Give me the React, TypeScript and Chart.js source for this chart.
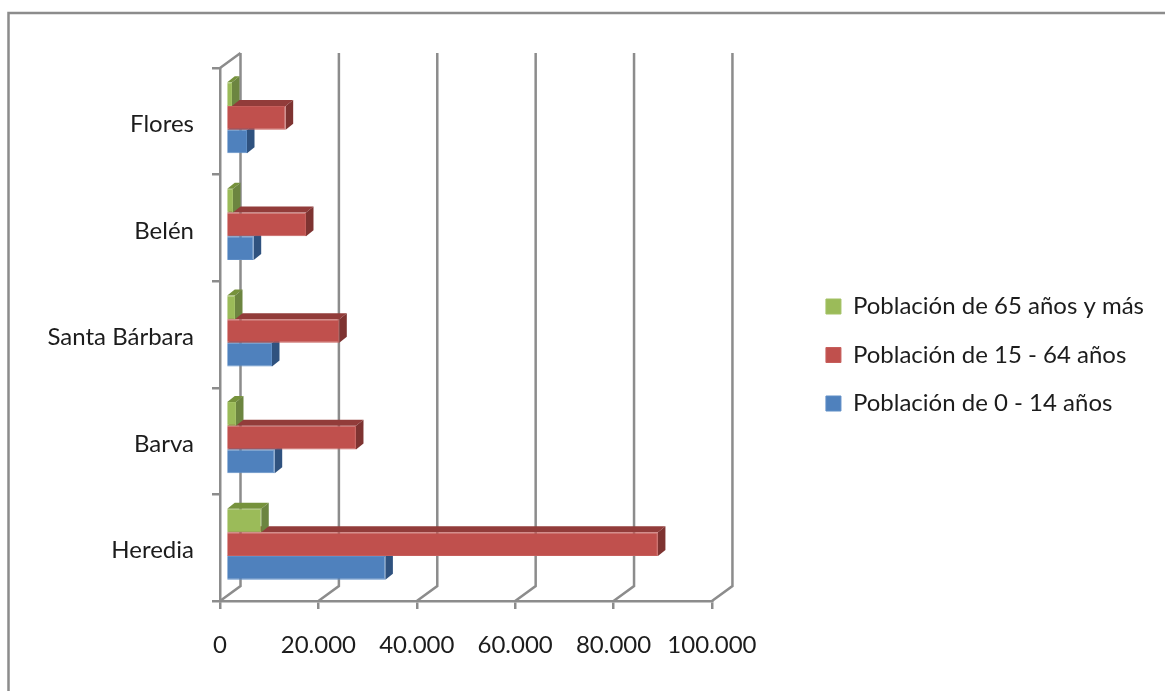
import React, { useEffect, useRef } from "react";
import { Chart, registerables } from "chart.js";

Chart.register(...registerables);

const cantones = ["Flores", "Belén", "Santa Bárbara", "Barva", "Heredia"];
const mayores = [1220, 1420, 1830, 2030, 7170];
const adultos = [12130, 16260, 23030, 26420, 87800];
const jovenes = [4270, 5630, 9350, 9900, 32400];

const AXIS_COLOR = "#8c8c8c";
const TEXT_COLOR = "#1c1c1c";
const FONT = { family: "Lato", size: 24 };

// Perspective offsets of the 3-D box and of the bars inside it.
const WALL_DX = 20.5;
const WALL_DY = -15;
const BAR_SHIFT_X = 6;
const BAR_SHIFT_Y = -3.5;
const BAR_DX = 7.5;
const BAR_DY = -6;

const miles = (v: number) => String(v).replace(/\B(?=(\d{3})+$)/, ".");

const box3d = {
  id: "box3d",
  beforeDraw(chart: any) {
    const { ctx, width, height } = chart;
    ctx.save();
    ctx.strokeStyle = AXIS_COLOR;
    ctx.lineWidth = 2.5;
    ctx.beginPath();
    ctx.moveTo(8.5, height);
    ctx.lineTo(8.5, 13);
    ctx.lineTo(width, 13);
    ctx.stroke();
    ctx.restore();
  },
  beforeDatasetsDraw(chart: any) {
    const { ctx, chartArea, scales } = chart;
    const { left, top, bottom } = chartArea;
    ctx.save();
    ctx.strokeStyle = AXIS_COLOR;
    ctx.lineWidth = 2.5;
    ctx.beginPath();
    ctx.moveTo(left, top);
    ctx.lineTo(left + WALL_DX, top + WALL_DY);
    for (const tick of scales.x.ticks) {
      const px = scales.x.getPixelForValue(tick.value);
      ctx.moveTo(px + WALL_DX, top + WALL_DY);
      ctx.lineTo(px + WALL_DX, bottom + WALL_DY);
      ctx.lineTo(px, bottom);
    }
    ctx.stroke();
    ctx.restore();
  },
  beforeDatasetDraw(chart: any, args: any) {
    const { ctx } = chart;
    const ds = chart.data.datasets[args.index];
    ctx.save();
    ctx.translate(BAR_SHIFT_X, BAR_SHIFT_Y);
    for (const bar of args.meta.data) {
      const { x, y, base, height } = bar.getProps(["x", "y", "base", "height"], true);
      const t = y - height / 2;
      const b = y + height / 2;
      // Upper face of the bar
      ctx.fillStyle = ds.topColor;
      ctx.beginPath();
      ctx.moveTo(base, t);
      ctx.lineTo(base + BAR_DX, t + BAR_DY);
      ctx.lineTo(x + BAR_DX, t + BAR_DY);
      ctx.lineTo(x, t);
      ctx.closePath();
      ctx.fill();
      // End face of the bar
      ctx.fillStyle = ds.sideColor;
      ctx.beginPath();
      ctx.moveTo(x, t);
      ctx.lineTo(x + BAR_DX, t + BAR_DY);
      ctx.lineTo(x + BAR_DX, b + BAR_DY);
      ctx.lineTo(x, b);
      ctx.closePath();
      ctx.fill();
    }
  },
  afterDatasetDraw(chart: any) {
    chart.ctx.restore();
  },
};

export default function App() {
  const ref = useRef<HTMLCanvasElement>(null);

  useEffect(() => {
    const chart = new Chart(ref.current as HTMLCanvasElement, {
      type: "bar",
      plugins: [box3d],
      data: {
        labels: cantones,
        datasets: [
          {
            label: "Población de 65 años y más",
            data: mayores,
            backgroundColor: "#9BBB59",
            borderColor: "#A3C165",
            borderWidth: 1,
            topColor: "#76923C",
            sideColor: "#6C8540",
            clip: false,
          },
          {
            label: "Población de 15 - 64 años",
            data: adultos,
            backgroundColor: "#C0504D",
            borderColor: "#C65E5B",
            borderWidth: 1,
            topColor: "#923C3A",
            sideColor: "#7E3331",
            clip: false,
          },
          {
            label: "Población de 0 - 14 años",
            data: jovenes,
            backgroundColor: "#4F81BD",
            borderColor: "#5F8EC6",
            borderWidth: 1,
            topColor: "#3A608F",
            sideColor: "#2F527F",
            clip: false,
          },
        ] as any,
      },
      options: {
        indexAxis: "y",
        responsive: false,
        animation: false,
        layout: { padding: { top: 19, bottom: 0, left: 0, right: 11 } },
        datasets: { bar: { categoryPercentage: 0.667, barPercentage: 1 } },
        scales: {
          x: {
            min: 0,
            max: 100000,
            grid: { drawOnChartArea: false, color: AXIS_COLOR, lineWidth: 2.5, tickLength: 8 },
            border: { color: AXIS_COLOR, width: 2.5 },
            ticks: {
              stepSize: 20000,
              autoSkip: false,
              maxRotation: 0,
              padding: 22,
              color: TEXT_COLOR,
              font: FONT,
              callback: (v: any) => miles(v),
            },
            afterFit(s: any) {
              s.height = 90;
            },
          },
          y: {
            grid: { drawOnChartArea: false, color: AXIS_COLOR, lineWidth: 2.5, tickLength: 8 },
            border: { color: AXIS_COLOR, width: 2.5 },
            ticks: { padding: 18, labelOffset: 3, color: TEXT_COLOR, font: FONT },
            afterFit(s: any) {
              s.width = 220;
            },
          },
          // Empty strips that hold the plot away from the legend and the frame.
          margenDerecho: {
            type: "linear",
            axis: "y",
            position: "right",
            grid: { display: false },
            border: { display: false },
            ticks: { display: false },
            afterFit(s: any) {
              s.width = 89.5;
            },
          },
          margenSuperior: {
            type: "linear",
            axis: "x",
            position: "top",
            grid: { display: false },
            border: { display: false },
            ticks: { display: false },
            afterFit(s: any) {
              s.height = 49;
            },
          },
        },
        plugins: {
          tooltip: { enabled: false },
          legend: {
            position: "right",
            maxWidth: 420,
            labels: {
              boxWidth: 15,
              boxHeight: 15,
              padding: 24.5,
              color: TEXT_COLOR,
              font: FONT,
            },
          },
        },
      } as any,
    });
    return () => chart.destroy();
  }, []);

  return (
    <div style={{ position: "absolute", left: 0, top: 0 }}>
      <canvas ref={ref} width={1165} height={691} style={{ display: "block" }} />
    </div>
  );
}
